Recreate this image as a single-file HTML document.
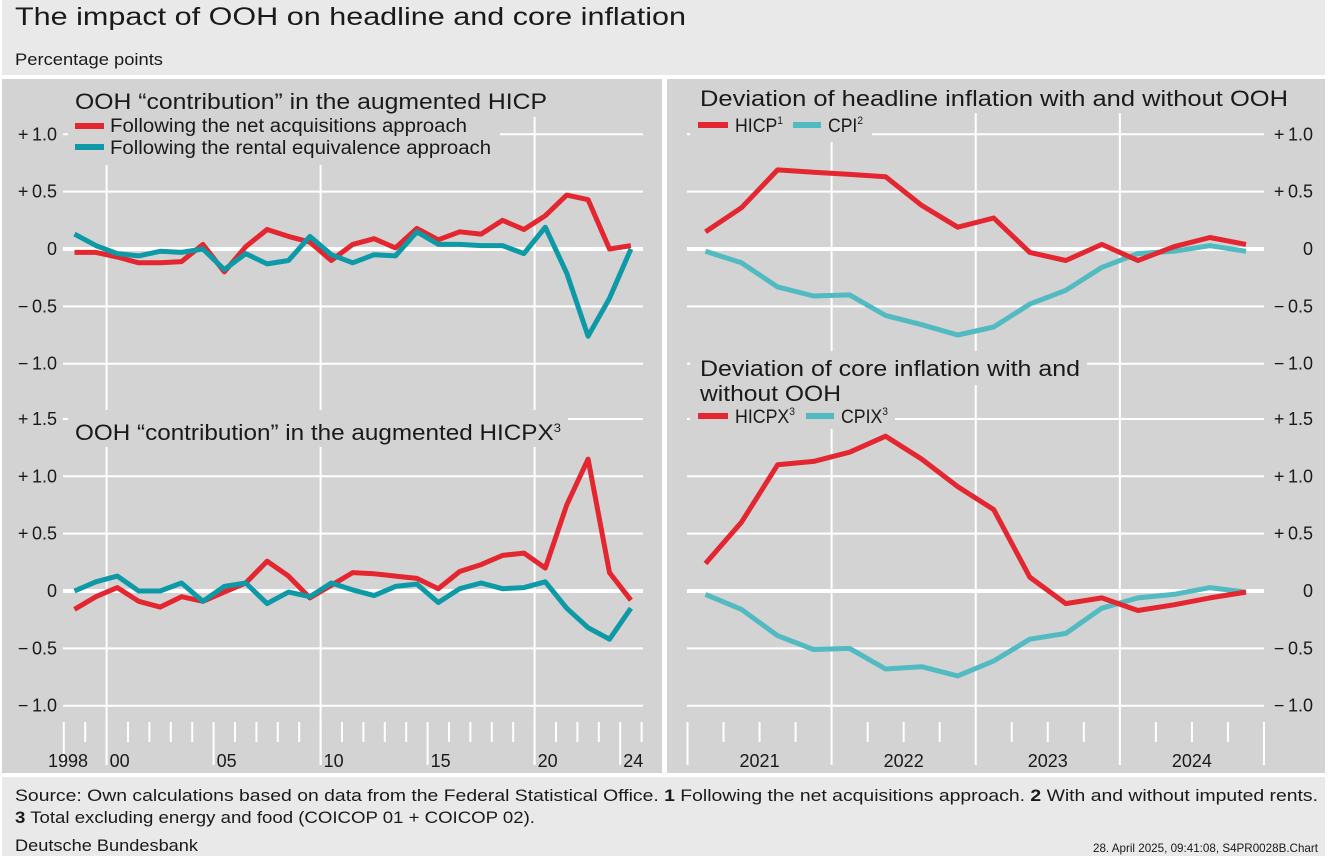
<!DOCTYPE html>
<html><head><meta charset="utf-8"><style>
html,body{margin:0;padding:0;background:#fff;}
svg{display:block;font-family:"Liberation Sans",sans-serif;fill:#1a1a1a;}
</style></head><body>
<svg id="c" width="1328" height="859" viewBox="0 0 1328 859" xmlns="http://www.w3.org/2000/svg">
<rect x="0" y="0" width="1328" height="859" fill="#fff"/>
<rect x="2" y="0" width="1323" height="75" fill="#e9e9e9"/>
<text x="15" y="25" font-size="25" textLength="671" lengthAdjust="spacingAndGlyphs">The impact of OOH on headline and core inflation</text>
<text x="15" y="65" font-size="17" textLength="148" lengthAdjust="spacingAndGlyphs">Percentage points</text>
<rect x="2" y="79" width="660" height="694" fill="#d3d3d3"/>
<rect x="667" y="79" width="658" height="694" fill="#d3d3d3"/>
<rect x="2" y="777" width="1323" height="79" fill="#e9e9e9"/>
<g id="grid"></g>
<g id="lines"></g>
<g id="over"></g>
<text x="15" y="801" font-size="17" textLength="1303" lengthAdjust="spacingAndGlyphs">Source: Own calculations based on data from the Federal Statistical Office. <tspan font-weight="bold">1</tspan> Following the net acquisitions approach. <tspan font-weight="bold">2</tspan> With and without imputed rents.</text>
<text x="15" y="823" font-size="17" textLength="520" lengthAdjust="spacingAndGlyphs"><tspan font-weight="bold">3</tspan> Total excluding energy and food (COICOP 01 + COICOP 02).</text>
<text x="15" y="851" font-size="17" textLength="183" lengthAdjust="spacingAndGlyphs">Deutsche Bundesbank</text>
<text x="1318" y="852" font-size="12" text-anchor="end" textLength="225" lengthAdjust="spacingAndGlyphs">28. April 2025, 09:41:08, S4PR0028B.Chart</text>
</svg>
<script>
const years = [1998,1999,2000,2001,2002,2003,2004,2005,2006,2007,2008,2009,2010,2011,2012,2013,2014,2015,2016,2017,2018,2019,2020,2021,2022,2023,2024];
const hicpNet = [-0.03,-0.03,-0.07,-0.12,-0.12,-0.11,0.04,-0.20,0.02,0.17,0.11,0.06,-0.10,0.04,0.09,0.01,0.18,0.08,0.15,0.13,0.25,0.17,0.29,0.47,0.43,0.00,0.03];
const hicpRent = [0.13,0.03,-0.04,-0.06,-0.02,-0.03,0.00,-0.18,-0.04,-0.13,-0.10,0.11,-0.05,-0.12,-0.05,-0.06,0.15,0.04,0.04,0.03,0.03,-0.04,0.19,-0.21,-0.76,-0.43,0.00];
const hicpxNet = [-0.16,-0.05,0.03,-0.09,-0.14,-0.05,-0.09,-0.01,0.07,0.26,0.13,-0.06,0.05,0.16,0.15,0.13,0.11,0.02,0.17,0.23,0.31,0.33,0.20,0.75,1.15,0.16,-0.08];
const hicpxRent = [0.00,0.08,0.13,0.00,0.00,0.07,-0.09,0.04,0.07,-0.11,-0.01,-0.05,0.07,0.01,-0.04,0.04,0.06,-0.10,0.02,0.07,0.02,0.03,0.08,-0.15,-0.32,-0.42,-0.15];
const quarters = ["2021Q1","2021Q2","2021Q3","2021Q4","2022Q1","2022Q2","2022Q3","2022Q4","2023Q1","2023Q2","2023Q3","2023Q4","2024Q1","2024Q2","2024Q3","2024Q4"];
const devHicp = [0.15,0.36,0.69,0.67,0.65,0.63,0.38,0.19,0.27,-0.03,-0.10,0.04,-0.10,0.02,0.10,0.04];
const devCpi = [-0.02,-0.12,-0.33,-0.41,-0.40,-0.58,-0.66,-0.75,-0.68,-0.48,-0.36,-0.16,-0.04,-0.02,0.03,-0.02];
const devHicpx = [0.24,0.60,1.10,1.13,1.21,1.35,1.15,0.91,0.71,0.12,-0.11,-0.06,-0.17,-0.12,-0.06,-0.01];
const devCpix = [-0.03,-0.16,-0.39,-0.51,-0.50,-0.68,-0.66,-0.74,-0.61,-0.42,-0.37,-0.15,-0.06,-0.03,0.03,-0.01];
const topTicks = [1.0,0.5,0,-0.5,-1.0];
const botTicks = [1.5,1.0,0.5,0,-0.5,-1.0];
const yearLabels = ["1998","00","05","10","15","20","24"];
const yearLabelYears = [1998,2000,2005,2010,2015,2020,2024];
const qYearLabels = ["2021","2022","2023","2024"];

const NS="http://www.w3.org/2000/svg";
const grid=document.getElementById('grid'), lines=document.getElementById('lines'), over=document.getElementById('over');
function mk(parent,tag,attrs){const e=document.createElementNS(NS,tag);for(const k in attrs)e.setAttribute(k,attrs[k]);parent.appendChild(e);return e;}
const PX=114.7;
const yTop=v=>249-v*PX, yBot=v=>591-v*PX;
const bYear=y=>63.8+(y-1998)*21.4;
const xYear=y=>bYear(y)+10.7;
const bQ=i=>687.5+i*36.03;
const xQ=i=>bQ(i)+18;
const fmt=v=>v===0?"0":(v>0?"+\u2009":"\u2212\u2009")+Math.abs(v).toFixed(1);

function hgrid(ticks,yf,x1,x2,lx,anchor,nm){
  ticks.forEach(t=>{
    const l=mk(grid,'line',{x1:x1,x2:x2,y1:yf(t),y2:yf(t),stroke:'#fff','stroke-width':t===0?4:2});
    
    
    const tx=mk(over,'text',{x:lx,y:yf(t)+6,'font-size':18,'text-anchor':anchor});
    tx.textContent=fmt(t);
    
    
  });
}
hgrid(topTicks,yTop,63,643,57,'end','left-top-y');
hgrid(botTicks,yBot,63,643,57,'end','left-bottom-y');
hgrid(topTicks,yTop,687,1264,1313,'end','right-top-y');
hgrid(botTicks,yBot,687,1264,1313,'end','right-bottom-y');

[2000,2010,2020].forEach(y=>{const l=mk(grid,'line',{x1:bYear(y),x2:bYear(y),y1:115,y2:765,stroke:'#fff','stroke-width':2});
  });
for(let y=1998;y<=2025;y++){const lab=yearLabelYears.includes(y);
  const l=mk(grid,'line',{x1:bYear(y),x2:bYear(y),y1:722,y2:lab?765:742,stroke:'#fff','stroke-width':2});
  }
yearLabels.forEach((s,i)=>{const y=yearLabelYears[i];
  const t=mk(over,'text',{x:y===1998?88:bYear(y)+3,y:767,'font-size':18,'text-anchor':y===1998?'end':'start'});
  t.textContent=s;});
for(let i=0;i<=16;i++){const yb=i%4===0;
  if(yb&&i>0&&i<16){const l=mk(grid,'line',{x1:bQ(i),x2:bQ(i),y1:113,y2:765,stroke:'#fff','stroke-width':2});
    }
  else{const l=mk(grid,'line',{x1:bQ(i),x2:bQ(i),y1:722,y2:yb?765:742,stroke:'#fff','stroke-width':2});
    }}
qYearLabels.forEach((s,i)=>{const t=mk(over,'text',{x:bQ(i*4+2),y:767,'font-size':18,'text-anchor':'middle'});
  t.textContent=s;});

function series(vals,xf,yf,color,nm){
  const pts=vals.map((v,i)=>xf(i).toFixed(1)+','+yf(v).toFixed(1)).join(' ');
  const p=mk(lines,'polyline',{points:pts,fill:'none',stroke:color,'stroke-width':5,'stroke-linejoin':'round'});
  
  
}
const xY=i=>xYear(years[i]);
const RED='#e3262f', TEAL='#0d9aa6', LTEAL='#52bac1';
series(hicpNet,xY,yTop,RED,'hicp-net-acquisitions-line');
series(hicpRent,xY,yTop,TEAL,'hicp-rental-equivalence-line');
series(hicpxNet,xY,yBot,RED,'hicpx-net-acquisitions-line');
series(hicpxRent,xY,yBot,TEAL,'hicpx-rental-equivalence-line');
series(devCpi,xQ,yTop,LTEAL,'cpi-deviation-line');
series(devHicp,xQ,yTop,RED,'hicp-deviation-line');
series(devCpix,xQ,yBot,LTEAL,'cpix-deviation-line');
series(devHicpx,xQ,yBot,RED,'hicpx-deviation-line');

function mask(x,y,w,h){mk(grid,'rect',{x:x,y:y,width:w,height:h,fill:'#d3d3d3'});}
mask(68,81,490,36);mask(68,117,432,48);
mask(68,410,500,37);
mask(690,82,610,30);mask(690,112,182,30);
mask(690,351,397,34);mask(690,385,205,44);

function txt(x,y,s,size,len,nm){const t=mk(over,'text',{x:x,y:y,'font-size':size,textLength:len,lengthAdjust:'spacingAndGlyphs'});t.innerHTML=s;
  return t;}
function sw(x,y,w,c,nm){const r=mk(over,'rect',{x:x,y:y-3,width:w,height:6,fill:c});}
txt(75,109,'OOH “contribution” in the augmented HICP',22,472,'left-top-title');
sw(75,126,29,RED,'legend-swatch-net');txt(110,132,'Following the net acquisitions approach',19,357,'legend-entry-net');
sw(75,147,29,TEAL,'legend-swatch-rental');txt(110,154,'Following the rental equivalence approach',19,381,'legend-entry-rental');
txt(75,440,'OOH “contribution” in the augmented HICPX<tspan font-size="12" dy="-8">3</tspan>',22,486,'left-bottom-title');
txt(700,106,'Deviation of headline inflation with and without OOH',22,588,'right-top-title');
sw(698,125,30,RED,'legend-swatch-hicp');txt(735,132,'HICP<tspan font-size="11" dy="-8">1</tspan>',19,48,'legend-entry-hicp');
sw(793,125,28,LTEAL,'legend-swatch-cpi');txt(828,132,'CPI<tspan font-size="11" dy="-8">2</tspan>',19,35,'legend-entry-cpi');
txt(700,376,'Deviation of core inflation with and',22,380,'right-bottom-title-line1');
txt(700,401,'without OOH',22,141,'right-bottom-title-line2');
sw(698,416,30,RED,'legend-swatch-hicpx');txt(735,423,'HICPX<tspan font-size="11" dy="-8">3</tspan>',19,60,'legend-entry-hicpx');
sw(806,416,28,LTEAL,'legend-swatch-cpix');txt(841,423,'CPIX<tspan font-size="11" dy="-8">3</tspan>',19,47,'legend-entry-cpix');
</script>
</body></html>
